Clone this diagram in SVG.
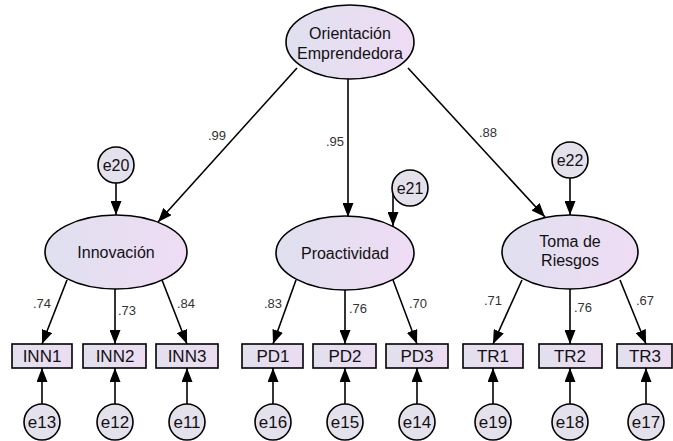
<svg xmlns="http://www.w3.org/2000/svg" width="673" height="441" viewBox="0 0 673 441">
<defs>
<linearGradient id="gl" x1="0" y1="0" x2="1" y2="0">
<stop offset="0" stop-color="#dfe0ef"/>
<stop offset="1" stop-color="#efdcf4"/>
</linearGradient>
<linearGradient id="gb" x1="0" y1="0" x2="1" y2="0">
<stop offset="0" stop-color="#e2e0ee"/>
<stop offset="1" stop-color="#ecdcf2"/>
</linearGradient>
<marker id="ah" markerUnits="userSpaceOnUse" markerWidth="14" markerHeight="11" refX="14" refY="5.5" orient="auto">
<path d="M0,0 L14,5.5 L0,11 z" fill="#000"/>
</marker>
</defs>
<style>
.lat{fill:url(#gl);stroke:#000;stroke-width:1.6}
.obs{fill:url(#gb);stroke:#000;stroke-width:1.6}
.err{fill:#e4e1ec;stroke:#000;stroke-width:1.6}
.t{font-family:"Liberation Sans",Arial,sans-serif;font-size:16px;fill:#111;text-anchor:middle}
.bt{font-family:"Liberation Sans",Arial,sans-serif;font-size:17px;fill:#111;text-anchor:middle}
.c{font-family:"Liberation Sans",Arial,sans-serif;font-size:13px;fill:#333;text-anchor:middle}
.e{stroke:#000;stroke-width:1.6;fill:none;marker-end:url(#ah)}
</style>
<rect width="673" height="441" fill="#fff"/>
<g id="connectors">
<line class="e" x1="297" y1="68" x2="158" y2="222"/>
<line class="e" x1="348" y1="79" x2="348" y2="217"/>
<line class="e" x1="408" y1="68" x2="545" y2="217"/>
<line class="e" x1="116" y1="183" x2="116" y2="215"/>
<line class="e" x1="393" y1="194" x2="393" y2="226"/>
<line class="e" x1="570" y1="178" x2="570" y2="215"/>
<line class="e" x1="67" y1="280" x2="42" y2="344"/>
<line class="e" x1="115" y1="289" x2="115" y2="344"/>
<line class="e" x1="162" y1="280" x2="187" y2="344"/>
<line class="e" x1="296" y1="280" x2="273" y2="344"/>
<line class="e" x1="345" y1="290" x2="345" y2="344"/>
<line class="e" x1="393" y1="280" x2="417" y2="344"/>
<line class="e" x1="522" y1="280" x2="493" y2="344"/>
<line class="e" x1="570" y1="289" x2="570" y2="344"/>
<line class="e" x1="620" y1="280" x2="646" y2="344"/>
<line class="e" x1="42" y1="404" x2="42" y2="368"/>
<line class="e" x1="115" y1="404" x2="115" y2="368"/>
<line class="e" x1="187" y1="404" x2="187" y2="368"/>
<line class="e" x1="273" y1="404" x2="273" y2="368"/>
<line class="e" x1="345" y1="404" x2="345" y2="368"/>
<line class="e" x1="417" y1="404" x2="417" y2="368"/>
<line class="e" x1="493" y1="404" x2="493" y2="368"/>
<line class="e" x1="570" y1="404" x2="570" y2="368"/>
<line class="e" x1="646" y1="404" x2="646" y2="368"/>
<text class="c" x="217" y="140">.99</text>
<text class="c" x="335" y="146">.95</text>
<text class="c" x="488" y="137">.88</text>
<text class="c" x="42" y="308">.74</text>
<text class="c" x="127" y="315">.73</text>
<text class="c" x="186" y="308">.84</text>
<text class="c" x="273" y="308">.83</text>
<text class="c" x="358" y="313">.76</text>
<text class="c" x="418" y="308">.70</text>
<text class="c" x="493" y="305">.71</text>
<text class="c" x="583" y="312">.76</text>
<text class="c" x="645" y="305">.67</text>
</g>
<g id="OE"><ellipse class="lat" cx="350" cy="42" rx="64" ry="37"/><text class="t" x="350" y="39">Orientación</text><text class="t" x="350" y="59">Emprendedora</text></g>
<g id="INN"><ellipse class="lat" cx="116" cy="252" rx="71" ry="37"/><text class="t" x="116" y="258">Innovación</text></g>
<g id="PD"><ellipse class="lat" cx="345" cy="253" rx="69" ry="37"/><text class="t" x="345" y="259">Proactividad</text></g>
<g id="TR"><ellipse class="lat" cx="570" cy="252" rx="68" ry="37"/><text class="t" x="570" y="247">Toma de</text><text class="t" x="570" y="266">Riesgos</text></g>
<g id="e20"><circle class="err" cx="116" cy="165" r="18"/><text class="t" x="116" y="171">e20</text></g>
<g id="e21"><circle class="err" cx="410" cy="188" r="18"/><text class="t" x="410" y="194">e21</text></g>
<g id="e22"><circle class="err" cx="570" cy="160" r="18"/><text class="t" x="570" y="166">e22</text></g>
<g id="INN1"><rect class="obs" x="12" y="344" width="60" height="24"/><text class="bt" x="42" y="362">INN1</text></g>
<g id="INN2"><rect class="obs" x="83" y="344" width="63" height="24"/><text class="bt" x="115" y="362">INN2</text></g>
<g id="INN3"><rect class="obs" x="156" y="344" width="62" height="24"/><text class="bt" x="187" y="362">INN3</text></g>
<g id="PD1"><rect class="obs" x="242" y="344" width="61" height="24"/><text class="bt" x="273" y="362">PD1</text></g>
<g id="PD2"><rect class="obs" x="313" y="344" width="63" height="24"/><text class="bt" x="345" y="362">PD2</text></g>
<g id="PD3"><rect class="obs" x="386" y="344" width="62" height="24"/><text class="bt" x="417" y="362">PD3</text></g>
<g id="TR1"><rect class="obs" x="463" y="344" width="60" height="24"/><text class="bt" x="493" y="362">TR1</text></g>
<g id="TR2"><rect class="obs" x="539" y="344" width="63" height="24"/><text class="bt" x="570" y="362">TR2</text></g>
<g id="TR3"><rect class="obs" x="617" y="344" width="55" height="24"/><text class="bt" x="645" y="362">TR3</text></g>
<g id="e13"><circle class="err" cx="42" cy="422" r="18"/><text class="bt" x="42" y="428">e13</text></g>
<g id="e12"><circle class="err" cx="115" cy="422" r="18"/><text class="bt" x="115" y="428">e12</text></g>
<g id="e11"><circle class="err" cx="187" cy="422" r="18"/><text class="bt" x="187" y="428">e11</text></g>
<g id="e16"><circle class="err" cx="273" cy="422" r="18"/><text class="bt" x="273" y="428">e16</text></g>
<g id="e15"><circle class="err" cx="345" cy="422" r="18"/><text class="bt" x="345" y="428">e15</text></g>
<g id="e14"><circle class="err" cx="417" cy="422" r="18"/><text class="bt" x="417" y="428">e14</text></g>
<g id="e19"><circle class="err" cx="493" cy="422" r="18"/><text class="bt" x="493" y="428">e19</text></g>
<g id="e18"><circle class="err" cx="570" cy="422" r="18"/><text class="bt" x="570" y="428">e18</text></g>
<g id="e17"><circle class="err" cx="646" cy="422" r="18"/><text class="bt" x="646" y="428">e17</text></g>
</svg>
